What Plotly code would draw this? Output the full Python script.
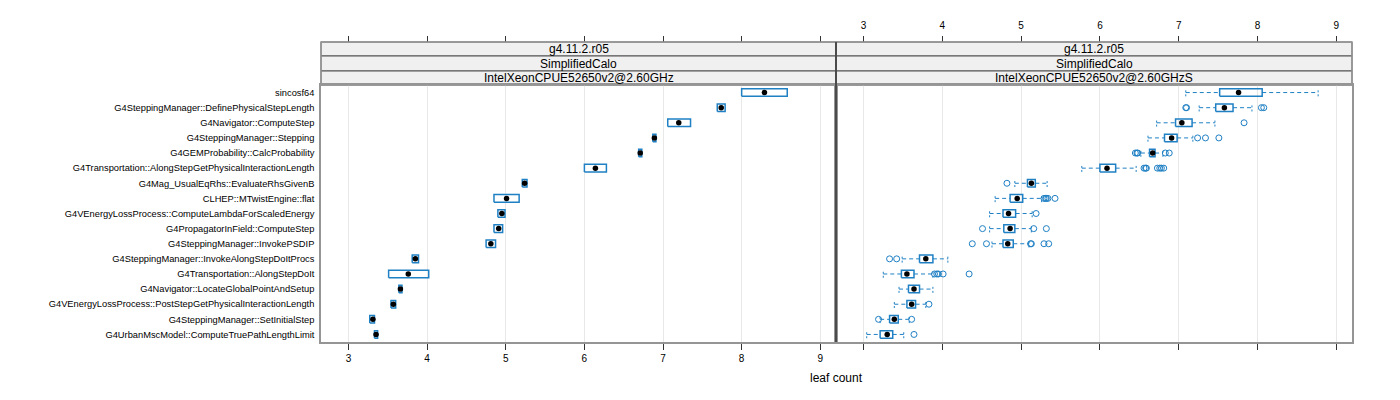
import plotly.graph_objects as go

# function names, top row first
categories = [
    "sincosf64",
    "G4SteppingManager::DefinePhysicalStepLength",
    "G4Navigator::ComputeStep",
    "G4SteppingManager::Stepping",
    "G4GEMProbability::CalcProbability",
    "G4Transportation::AlongStepGetPhysicalInteractionLength",
    "G4Mag_UsualEqRhs::EvaluateRhsGivenB",
    "CLHEP::MTwistEngine::flat",
    "G4VEnergyLossProcess::ComputeLambdaForScaledEnergy",
    "G4PropagatorInField::ComputeStep",
    "G4SteppingManager::InvokePSDIP",
    "G4SteppingManager::InvokeAlongStepDoItProcs",
    "G4Transportation::AlongStepDoIt",
    "G4Navigator::LocateGlobalPointAndSetup",
    "G4VEnergyLossProcess::PostStepGetPhysicalInteractionLength",
    "G4SteppingManager::SetInitialStep",
    "G4UrbanMscModel::ComputeTruePathLengthLimit",
]

panel_names = ["IntelXeonCPUE52650v2@2.60GHz", "IntelXeonCPUE52650v2@2.60GHzS"]
strip_version = "g4.11.2.r05"
strip_geometry = "SimplifiedCalo"

# left panel: box stats only (whiskers collapse onto the box)
left_q1 = [8.00, 7.69, 7.06, 6.87, 6.69, 6.00, 5.21, 4.85, 4.90, 4.85, 4.75, 3.81, 3.51, 3.64, 3.54, 3.27, 3.33]
left_med = [8.29, 7.74, 7.20, 6.89, 6.71, 6.14, 5.24, 5.01, 4.95, 4.91, 4.81, 3.85, 3.76, 3.66, 3.57, 3.31, 3.35]
left_q3 = [8.58, 7.79, 7.35, 6.91, 6.73, 6.28, 5.27, 5.17, 4.99, 4.96, 4.87, 3.89, 4.02, 3.68, 3.60, 3.33, 3.37]

# right panel: full boxplot stats
right_lo = [7.09, 7.26, 6.72, 6.61, 6.52, 5.77, 4.92, 4.67, 4.60, 4.60, 4.63, 3.49, 3.25, 3.45, 3.39, 3.21, 3.04]
right_q1 = [7.52, 7.47, 6.96, 6.82, 6.63, 6.00, 5.08, 4.86, 4.77, 4.78, 4.77, 3.71, 3.48, 3.57, 3.55, 3.33, 3.21]
right_med = [7.76, 7.58, 7.04, 6.91, 6.67, 6.09, 5.13, 4.95, 4.84, 4.86, 4.83, 3.79, 3.55, 3.64, 3.61, 3.39, 3.30]
right_q3 = [8.06, 7.69, 7.17, 6.98, 6.70, 6.20, 5.18, 5.02, 4.93, 4.92, 4.90, 3.88, 3.64, 3.71, 3.66, 3.44, 3.37]
right_hi = [8.77, 7.93, 7.46, 7.18, 6.80, 6.46, 5.33, 5.26, 5.14, 5.13, 5.10, 4.07, 3.88, 3.88, 3.79, 3.58, 3.51]
right_out = [
    [],
    [7.09, 7.10, 8.05, 8.08],
    [7.83],
    [7.24, 7.34, 7.51],
    [6.45, 6.47, 6.48, 6.83, 6.88],
    [6.56, 6.58, 6.59, 6.73, 6.76, 6.78, 6.81],
    [4.82],
    [5.29, 5.31, 5.32, 5.34, 5.43],
    [5.19],
    [4.51, 5.16, 5.32],
    [4.38, 4.56, 5.12, 5.13, 5.29, 5.35],
    [3.33, 3.42],
    [3.90, 3.93, 3.95, 4.01, 4.34],
    [],
    [3.83],
    [3.19, 3.61],
    [3.64],
]

x_ticks = [3, 4, 5, 6, 7, 8, 9]
x_range = [2.65, 9.2]

# the page body has an 8px margin, so the figure is 16px smaller than the window
PAD = 8
W, H = 1400 - 2 * PAD, 400 - 2 * PAD
box_col = "#1f80c4"
font = "Liberation Sans"

n = len(categories)
ypos = [n - i for i in range(n)]
hw = 0.25  # half box height in row units


def px_x(p):
    return (p - PAD) / W


def px_y(p):
    return (H - (p - PAD)) / H


def box_xy(q1, q3):
    xs, ys = [], []
    for a, b, y in zip(q1, q3, ypos):
        xs += [a, b, b, a, a, None]
        ys += [y - hw, y - hw, y + hw, y + hw, y - hw, None]
    return xs, ys


fig = go.Figure()

# ---- left panel
bx, by = box_xy(left_q1, left_q3)
fig.add_trace(go.Scatter(x=bx, y=by, mode="lines", line=dict(color=box_col, width=1.5),
                         xaxis="x", yaxis="y", hoverinfo="skip"))
fig.add_trace(go.Scatter(x=left_med, y=ypos, mode="markers", marker=dict(color="black", size=5.5),
                         xaxis="x", yaxis="y"))

# ---- right panel
wx, wy, cx, cy = [], [], [], []
for lo, a, b, hi, y in zip(right_lo, right_q1, right_q3, right_hi, ypos):
    wx += [lo, a, None, b, hi, None]
    wy += [y, y, None, y, y, None]
    cx += [lo, lo, None, hi, hi, None]
    cy += [y - hw, y + hw, None, y - hw, y + hw, None]
fig.add_trace(go.Scatter(x=wx, y=wy, mode="lines", line=dict(color=box_col, width=1, dash="4px,3px"),
                         xaxis="x2", yaxis="y2", hoverinfo="skip"))
fig.add_trace(go.Scatter(x=cx, y=cy, mode="lines", line=dict(color=box_col, width=1, dash="2px,2px"),
                         xaxis="x2", yaxis="y2", hoverinfo="skip"))
bx, by = box_xy(right_q1, right_q3)
fig.add_trace(go.Scatter(x=bx, y=by, mode="lines", line=dict(color=box_col, width=1.5),
                         xaxis="x2", yaxis="y2", hoverinfo="skip"))
ox, oy = [], []
for vals, y in zip(right_out, ypos):
    ox += vals
    oy += [y] * len(vals)
fig.add_trace(go.Scatter(x=ox, y=oy, mode="markers",
                         marker=dict(symbol="circle-open", color=box_col, size=6, line=dict(width=1)),
                         xaxis="x2", yaxis="y2"))
fig.add_trace(go.Scatter(x=right_med, y=ypos, mode="markers", marker=dict(color="black", size=5.5),
                         xaxis="x2", yaxis="y2"))

# invisible traces so the top (alternating) axes get drawn
fig.add_trace(go.Scatter(x=left_med, y=ypos, mode="markers", marker=dict(opacity=0),
                         xaxis="x3", yaxis="y", hoverinfo="skip"))
fig.add_trace(go.Scatter(x=right_med, y=ypos, mode="markers", marker=dict(opacity=0),
                         xaxis="x4", yaxis="y2", hoverinfo="skip"))

left_dom = [px_x(321), px_x(836)]
right_dom = [px_x(836), px_x(1352)]
y_dom = [px_y(342), px_y(85)]
strip_top = 42
strip_rows = [42, 56, 71, 85]

common_x = dict(range=x_range, tickvals=x_ticks, ticks="outside", ticklen=6, tickcolor="#333333",
                showline=True, linecolor="#959595", linewidth=1.5, mirror=True, zeroline=False,
                showgrid=True, gridcolor="#e8e8e8", gridwidth=1,
                tickfont=dict(family=font, size=10, color="black"), fixedrange=True)
top_x = dict(range=x_range, tickvals=x_ticks, ticks="outside", ticklen=6, tickcolor="#333333",
             showline=False, showgrid=False, zeroline=False, side="top", anchor="free",
             position=px_y(strip_top), ticklabelstandoff=3,
             tickfont=dict(family=font, size=10, color="black"), fixedrange=True)
common_y = dict(range=[0.5, n + 0.5], domain=y_dom, showgrid=False, zeroline=False,
                showline=True, linecolor="#959595", linewidth=1.5, mirror=True, fixedrange=True)

fig.update_layout(
    width=W, height=H, autosize=False,
    margin=dict(l=0, r=0, t=0, b=0),
    paper_bgcolor="white", plot_bgcolor="white",
    showlegend=False,
    font=dict(family=font, size=10, color="black"),
    xaxis=dict(common_x, domain=left_dom, anchor="y", showticklabels=True),
    xaxis2=dict(common_x, domain=right_dom, anchor="y2", showticklabels=False),
    xaxis3=dict(top_x, domain=left_dom, overlaying="x", showticklabels=False),
    xaxis4=dict(top_x, domain=right_dom, overlaying="x2", showticklabels=True),
    yaxis=dict(common_y, anchor="x", tickvals=ypos, ticktext=categories, ticks="",
               ticklabelstandoff=3, tickfont=dict(family=font, size=9.3, color="black")),
    yaxis2=dict(common_y, anchor="x2", showticklabels=False, ticks=""),
)

# strips
shapes = []
annotations = []
for dom, name in zip([left_dom, right_dom], panel_names):
    texts = [strip_version, strip_geometry, name]
    for k in range(3):
        y0, y1 = px_y(strip_rows[k + 1]), px_y(strip_rows[k])
        shapes.append(dict(type="rect", xref="paper", yref="paper", x0=dom[0], x1=dom[1], y0=y0, y1=y1,
                           fillcolor="#f0f0f0", line=dict(color="#505050", width=1), layer="below"))
        annotations.append(dict(xref="paper", yref="paper", x=(dom[0] + dom[1]) / 2, y=(y0 + y1) / 2,
                                text=texts[k], showarrow=False, xanchor="center", yanchor="middle",
                                font=dict(family=font, size=12, color="black")))
    shapes.append(dict(type="rect", xref="paper", yref="paper", x0=dom[0], x1=dom[1],
                       y0=px_y(strip_rows[-1]), y1=px_y(strip_rows[0]),
                       line=dict(color="#959595", width=1.5)))

# dark divider between the panels
shapes.append(dict(type="line", xref="paper", yref="paper", x0=px_x(836), x1=px_x(836),
                   y0=y_dom[0], y1=px_y(strip_top), line=dict(color="black", width=1)))

annotations.append(dict(xref="paper", yref="paper", x=px_x(836), y=px_y(378), text="leaf count",
                        showarrow=False, xanchor="center", yanchor="middle",
                        font=dict(family=font, size=12, color="black")))

fig.update_layout(shapes=shapes, annotations=annotations)

fig.write_html("out.html")
